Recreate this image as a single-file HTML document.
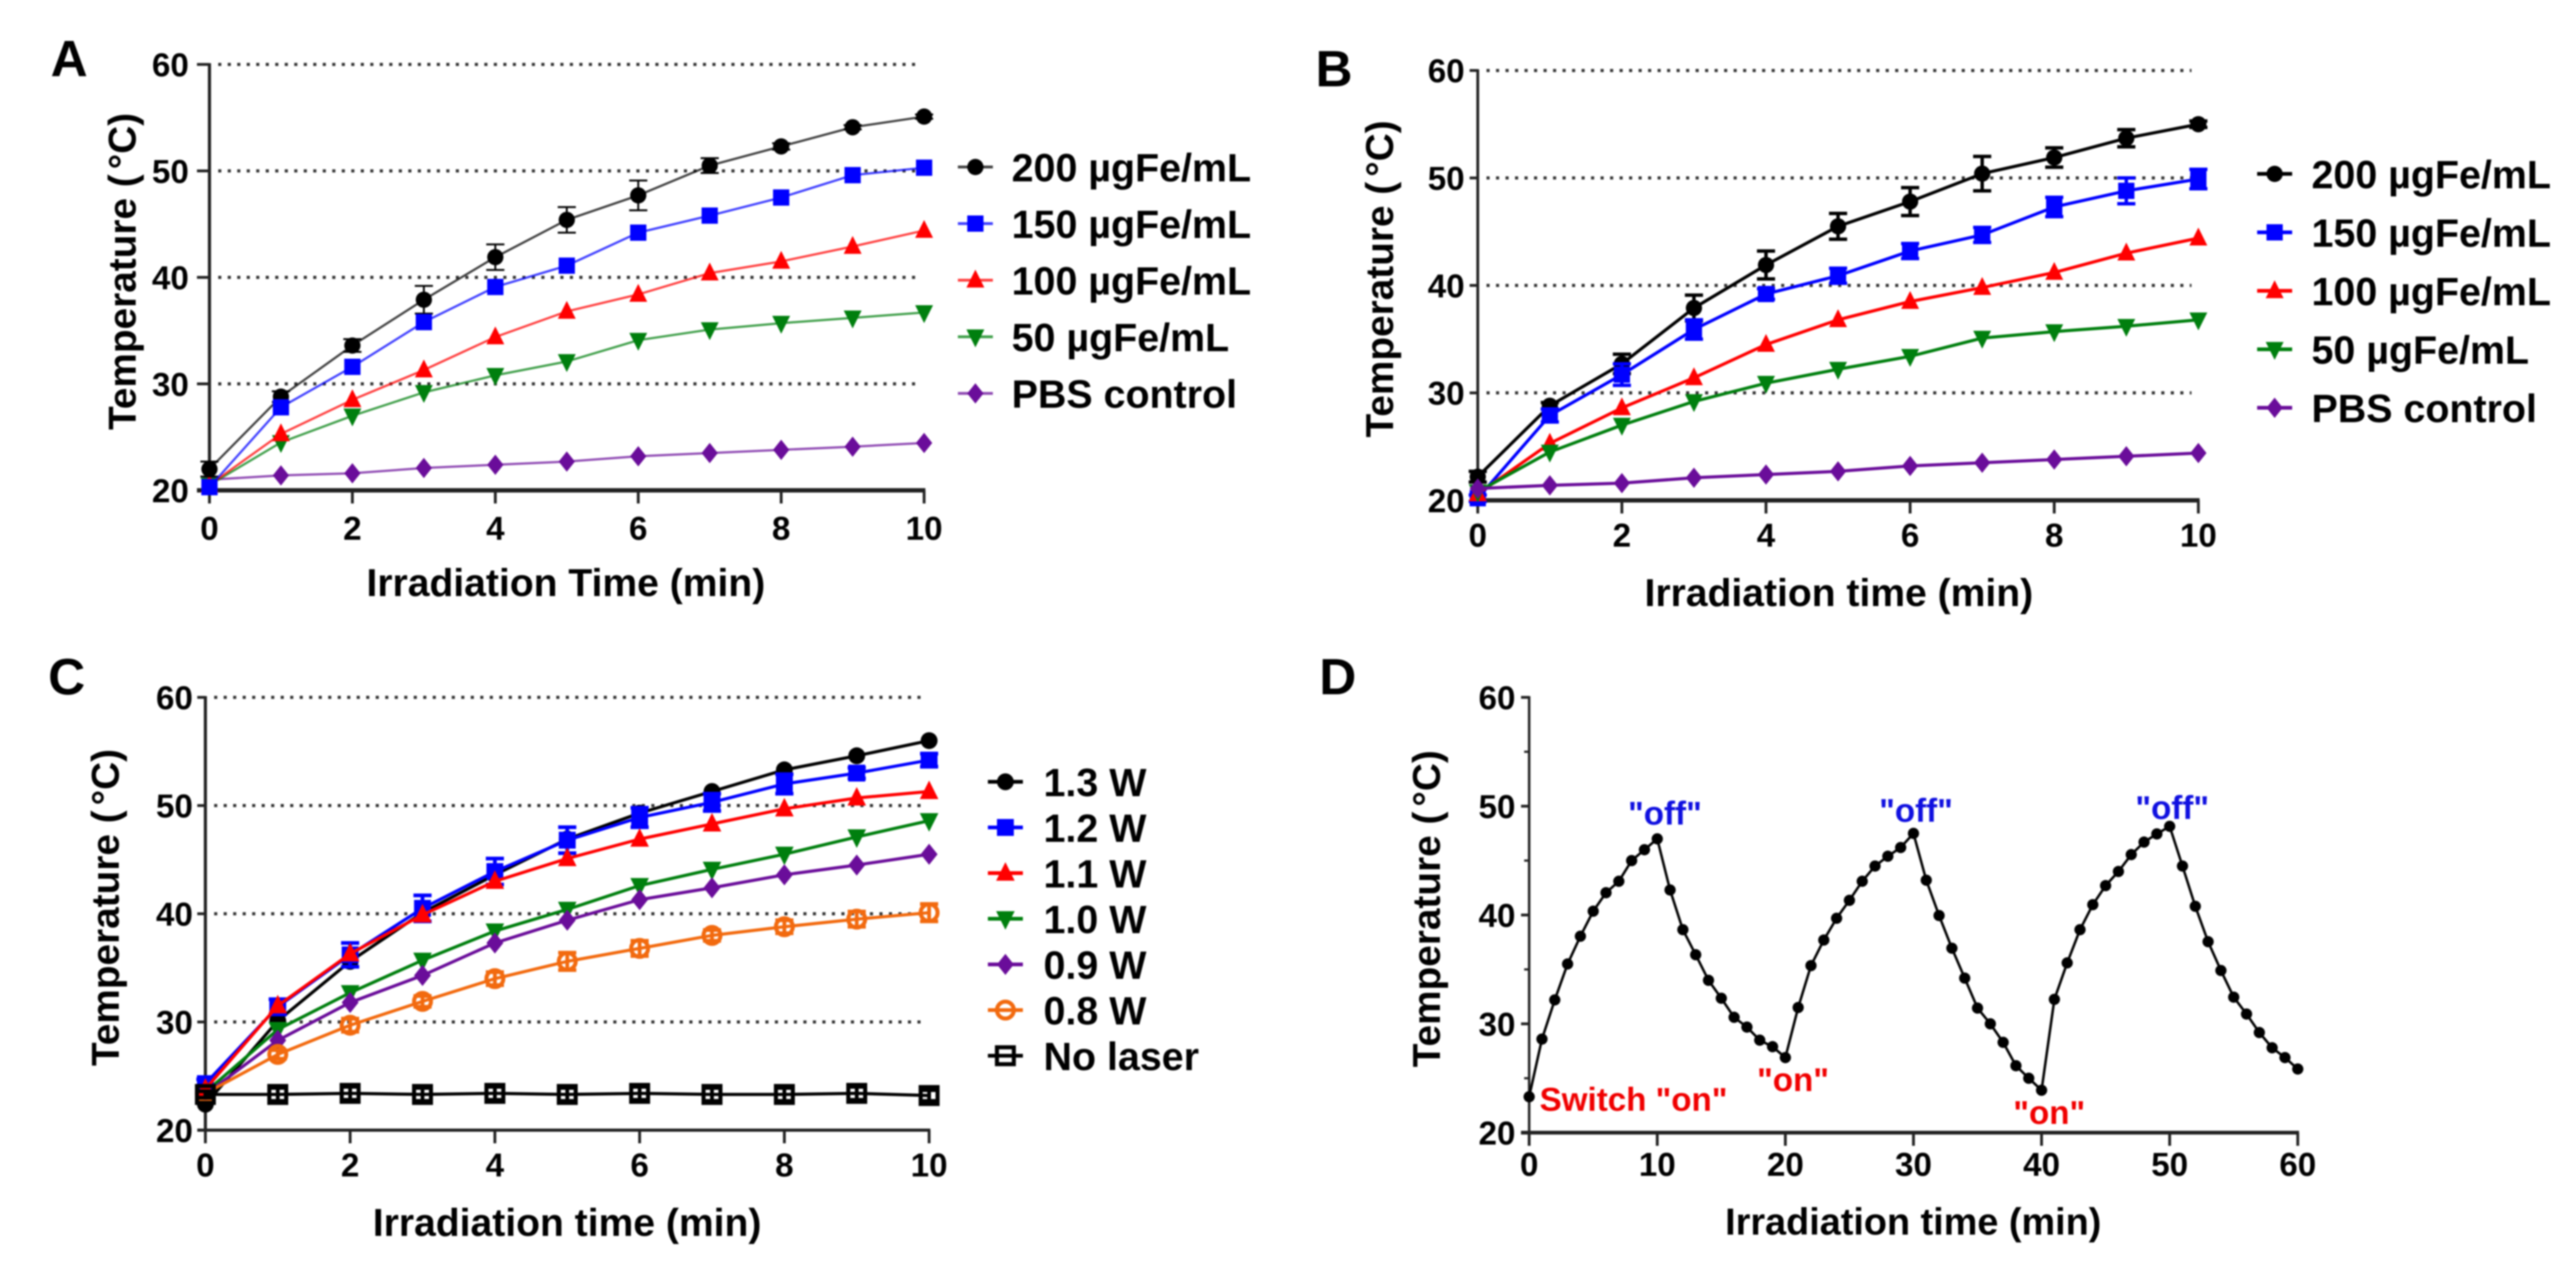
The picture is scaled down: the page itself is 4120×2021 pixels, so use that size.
<!DOCTYPE html>
<html lang="en">
<head>
<meta charset="utf-8">
<title>Photothermal heating curves</title>
<style>
html,body{margin:0;padding:0;background:#fff;width:4120px;height:2021px;overflow:hidden}
#figure{display:block;filter:blur(1.2px)}
text{font-family:"Liberation Sans",Arial,sans-serif;font-weight:bold;fill:#000}
</style>
</head>
<body>
<svg id="figure" xmlns="http://www.w3.org/2000/svg" width="4120" height="2021" viewBox="0 0 4120 2021">
<rect width="4120" height="2021" fill="#fff"/>
</svg>
<script>
// ---------- shared tick labels ----------
const yTickValues = [20, 30, 40, 50, 60];
const yMinorValues = [25, 35, 45, 55];
const xTicksTen = [0, 2, 4, 6, 8, 10];
const xTicksSixty = [0, 10, 20, 30, 40, 50, 60];
const minutes = [0, 1, 2, 3, 4, 5, 6, 7, 8, 9, 10];

// ---------- panel A values ----------
const a200 = [22, 28.8, 33.6, 37.9, 41.9, 45.4, 47.7, 50.5, 52.3, 54.1, 55.1];
const a150 = [20.3, 27.8, 31.6, 35.8, 39.1, 41.1, 44.2, 45.8, 47.5, 49.6, 50.3];
const a100 = [20.5, 25.3, 28.5, 31.3, 34.4, 36.8, 38.4, 40.4, 41.5, 42.9, 44.4];
const a50 = [20.5, 24.5, 27, 29.2, 30.8, 32.1, 34.1, 35.1, 35.7, 36.2, 36.7];
const aPbs = [21, 21.4, 21.6, 22.1, 22.4, 22.7, 23.2, 23.5, 23.8, 24.1, 24.45];
const a200Err = [0.7, 0.5, 0.6, 1.3, 1.2, 1.2, 1.4, 0.7, 0.3, 0.2, 0.2];
const aNone = [0, 0, 0, 0, 0, 0, 0, 0, 0, 0, 0];

// ---------- panel B values ----------
const b200 = [22.2, 28.8, 32.7, 37.9, 41.9, 45.5, 47.8, 50.4, 51.9, 53.7, 55];
const b150 = [20.2, 27.9, 31.7, 35.9, 39.2, 40.9, 43.2, 44.7, 47.3, 48.8, 49.9];
const b100 = [20.6, 25.3, 28.6, 31.4, 34.5, 36.8, 38.5, 39.8, 41.2, 43, 44.4];
const b50 = [20.8, 24.5, 27, 29.2, 30.9, 32.2, 33.4, 35.1, 35.7, 36.2, 36.8];
const bPbs = [21.1, 21.4, 21.6, 22.1, 22.4, 22.7, 23.2, 23.5, 23.8, 24.1, 24.4];
const b200Err = [0.5, 0.3, 0.9, 1.2, 1.3, 1.2, 1.3, 1.6, 0.9, 0.8, 0.3];
const b150Err = [0.3, 0.6, 1, 0.9, 0.5, 0.7, 0.7, 0.7, 0.9, 1.2, 0.9];

// ---------- panel C values ----------
const c13 = [22.4, 30.1, 35.6, 40.1, 43.6, 46.9, 49.3, 51.3, 53.3, 54.6, 56];
const c12 = [24.3, 31.4, 36.2, 40.5, 43.9, 46.8, 48.9, 50.3, 52, 53, 54.2];
const c11 = [23.8, 31.5, 36.3, 39.9, 43, 45.1, 46.9, 48.3, 49.7, 50.7, 51.3];
const c10 = [23.5, 29.3, 32.7, 35.7, 38.4, 40.4, 42.6, 44.1, 45.5, 47.1, 48.6];
const c09 = [23.3, 28.3, 31.8, 34.3, 37.3, 39.4, 41.3, 42.4, 43.6, 44.5, 45.5];
const c08 = [23.4, 27, 29.7, 31.9, 34, 35.6, 36.8, 38, 38.8, 39.5, 40.1];
const cNoLaser = [23.3, 23.3, 23.4, 23.3, 23.4, 23.3, 23.4, 23.3, 23.3, 23.4, 23.2];
const c12Err = [0.4, 0.7, 1.1, 1.2, 1.2, 1.2, 0.9, 0.8, 0.9, 0.5, 0.6];
const c08Err = [0.2, 0.4, 0.6, 0.5, 0.6, 0.8, 0.7, 0.5, 0.6, 0.7, 0.8];
const cNoLaserErr = [0.3, 0.6, 0.6, 0.6, 0.6, 0.6, 0.6, 0.6, 0.6, 0.6, 0.5];

// ---------- panel D values ----------
const dTemps = [23.3, 28.6, 32.2, 35.5, 38.05, 40.35, 42.05, 43.1, 45, 46, 47, 42.3, 38.65, 36.35, 34, 32.35, 30.6, 29.7, 28.5, 27.9, 26.9, 31.5, 35.35, 37.7, 39.7, 41.35, 43.1, 44.5, 45.4, 46.2, 47.5, 43.2, 39.95, 36.95, 34.2, 31.45, 30, 28.3, 26.15, 25, 23.9, 32.25, 35.6, 38.65, 40.95, 42.7, 44, 45.55, 46.7, 47.45, 48.15, 44.5, 40.8, 37.55, 34.9, 32.45, 30.9, 29.2, 27.8, 26.9, 25.85];
const dMinutes = dTemps.map(function (v, i) { return i; });
const dNotes = ['Switch "on"', '"off"', '"off"', '"off"', '"on"', '"on"'];
const dNoteTimes = [8.15, 10.6, 30.2, 50.2, 20.6, 40.6];
const dNoteTemps = [23.1, 49.4, 49.65, 49.9, 24.9, 21.9];
const dNoteColors = ['#f00000', '#1010e0', '#1010e0', '#1010e0', '#f00000', '#f00000'];

const NS = 'http://www.w3.org/2000/svg';
const root = document.getElementById('figure');

function make(parent, tag, attrs, name) {
  const el = document.createElementNS(NS, tag);
  for (const k in attrs) el.setAttribute(k, attrs[k]);
  
  
  parent.appendChild(el);
  return el;
}
function label(parent, x, y, str, size, anchor, name, color) {
  const t = make(parent, 'text', {x: x, y: y, 'font-size': size, 'text-anchor': anchor, fill: color || '#000'}, name);
  t.textContent = str;
  t.style.fill = color || '#000';
  return t;
}
function marker(parent, kind, x, y, s, color, name) {
  if (kind === 'circle') return make(parent, 'circle', {cx: x, cy: y, r: s, fill: color}, name);
  if (kind === 'square') return make(parent, 'rect', {x: x - s, y: y - s, width: 2 * s, height: 2 * s, fill: color}, name);
  if (kind === 'up') return make(parent, 'polygon', {points: [x, y - s * 1.3, x + s * 1.1, y + s * 0.9, x - s * 1.1, y + s * 0.9].join(' '), fill: color}, name);
  if (kind === 'down') return make(parent, 'polygon', {points: [x, y + s * 1.3, x + s * 1.1, y - s * 0.9, x - s * 1.1, y - s * 0.9].join(' '), fill: color}, name);
  if (kind === 'diamond') return make(parent, 'polygon', {points: [x, y - s * 1.25, x + s * 1.0, y, x, y + s * 1.25, x - s * 1.0, y].join(' '), fill: color}, name);
  if (kind === 'open-circle') return make(parent, 'circle', {cx: x, cy: y, r: s, fill: 'none', stroke: color, 'stroke-width': 6.5}, name);
  return make(parent, 'rect', {x: x - s, y: y - s, width: 2 * s, height: 2 * s, fill: 'none', stroke: color, 'stroke-width': 6.5}, name);
}

function drawPanel(p) {
  const g = make(root, 'g', {}, 'panel-' + p.id);
  const xScale = function (v) { return p.x0 + (v - p.xMin) / (p.xMax - p.xMin) * (p.x1 - p.x0); };
  const yScale = function (v) { return p.y20 + (v - 20) / 40 * (p.y60 - p.y20); };

  label(g, p.letterX, p.letterY, p.id, 82, 'start', 'panel-letter');

  if (p.grid) {
    yTickValues.slice(1).forEach(function (v) {
      make(g, 'line', {x1: p.x0 + 14, x2: p.gridEnd, y1: yScale(v), y2: yScale(v), stroke: '#333', 'stroke-width': 5, 'stroke-dasharray': '5 10.2'}, 'gridline');
    });
  }

  make(g, 'line', {x1: p.x0, x2: p.x0, y1: p.y60 - 2, y2: p.y20 + 2, stroke: '#222', 'stroke-width': p.axisW}, 'y-axis');
  make(g, 'line', {x1: p.x0 - p.tickLen, x2: p.x1 + 2, y1: p.y20, y2: p.y20, stroke: '#222', 'stroke-width': p.baseW}, 'x-axis');

  yTickValues.forEach(function (v) {
    make(g, 'line', {x1: p.x0 - p.tickLen, x2: p.x0, y1: yScale(v), y2: yScale(v), stroke: '#222', 'stroke-width': 4.5}, 'y-tick');
    label(g, p.x0 - p.labelGap, yScale(v) + 19, String(v), 53, 'end', 'y-tick-label');
  });
  if (p.minor) {
    yMinorValues.forEach(function (v) {
      make(g, 'line', {x1: p.x0 - 8, x2: p.x0, y1: yScale(v), y2: yScale(v), stroke: '#222', 'stroke-width': 3.5}, 'y-minor-tick');
    });
  }
  p.xTicks.forEach(function (v) {
    make(g, 'line', {x1: xScale(v), x2: xScale(v), y1: p.y20, y2: p.y20 + 21, stroke: '#222', 'stroke-width': 4.5}, 'x-tick');
    label(g, xScale(v), p.xLabelY, String(v), 53, 'middle', 'x-tick-label');
  });

  label(g, p.xTitleX, p.xTitleY, p.xTitle, p.xTitleSize, 'middle', 'x-axis-title');
  const yt = make(g, 'text', {'font-size': 62, 'text-anchor': 'middle', transform: 'translate(' + p.yTitleX + ',' + p.yTitleY + ') rotate(-90)'}, 'y-axis-title');
  yt.appendChild(document.createTextNode('Temperature ('));
  const unit = document.createElementNS(NS, 'tspan');
  unit.setAttribute('dx', '8');
  unit.textContent = '°C)';
  yt.appendChild(unit);

  p.drawOrder.forEach(function (idx) {
    const s = p.series[idx];
    const sg = make(g, 'g', {}, 'series-' + s.key);
    s.err.forEach(function (e, i) {
      if (!e) return;
      const x = xScale(s.xs[i]);
      const hi = yScale(s.values[i] + e);
      const lo = yScale(s.values[i] - e);
      make(sg, 'line', {x1: x, x2: x, y1: hi, y2: lo, stroke: s.color, 'stroke-width': p.errW}, 'error-bar');
      make(sg, 'line', {x1: x - 14.5, x2: x + 14.5, y1: hi, y2: hi, stroke: s.color, 'stroke-width': p.errW}, 'error-cap');
      make(sg, 'line', {x1: x - 14.5, x2: x + 14.5, y1: lo, y2: lo, stroke: s.color, 'stroke-width': p.errW}, 'error-cap');
    });
    const pts = s.values.map(function (v, i) { return xScale(s.xs[i]) + ',' + yScale(v); }).join(' ');
    make(sg, 'polyline', {points: pts, fill: 'none', stroke: s.color, 'stroke-width': p.lineW, 'stroke-opacity': p.lineOpacity, 'stroke-linejoin': 'round'}, 'line-' + s.key);
    s.values.forEach(function (v, i) {
      marker(sg, s.shape, xScale(s.xs[i]), yScale(v), s.size || p.markerSize, s.color, 'point-' + s.key);
    });
  });

  if (p.legendX) {
    p.series.forEach(function (s, i) {
      const ly = p.legendY + i * p.legendStep;
      const lg = make(g, 'g', {}, 'legend-entry');
      make(lg, 'line', {x1: p.legendX - 28, x2: p.legendX + 28, y1: ly, y2: ly, stroke: s.color, 'stroke-width': p.lineW + 1, 'stroke-opacity': p.lineOpacity}, 'legend-line');
      marker(lg, s.shape, p.legendX, ly, s.size || p.markerSize, s.color, 'legend-marker');
      label(lg, p.legendTextX, ly + 23, s.label, 63, 'start', 'legend-label');
    });
  }

  if (p.notes) {
    p.notes.forEach(function (str, i) {
      label(g, xScale(dNoteTimes[i]), yScale(dNoteTemps[i]) + 19, str, 53, 'middle', 'annotation', dNoteColors[i]);
    });
  }
}

function seriesOf(key, lab, values, err, color, shape, xs, size) {
  return {key: key, label: lab, values: values, err: err, color: color, shape: shape, xs: xs || minutes, size: size};
}

const BLACK = '#000000', BLUE = '#0000ff', RED = '#ff0000', GREEN = '#007f0e', PURPLE = '#6a0d9a', ORANGE = '#f26a0f';

drawPanel({
  id: 'A', letterX: 81, letterY: 122, x0: 335, x1: 1478, y20: 784, y60: 103, xMin: 0, xMax: 10, gridEnd: 1465, grid: true,
  axisW: 5, baseW: 7, tickLen: 20, labelGap: 33, xTicks: xTicksTen, xLabelY: 863,
  xTitle: 'Irradiation Time (min)', xTitleSize: 62.5, xTitleX: 905, xTitleY: 953, yTitleX: 217, yTitleY: 434,
  lineW: 3.5, lineOpacity: 0.75, errW: 3, markerSize: 13,
  legendX: 1560, legendTextX: 1618, legendY: 267, legendStep: 90.5,
  drawOrder: [4, 3, 2, 0, 1],
  series: [
    seriesOf('200-ugfe', '200 µgFe/mL', a200, a200Err, BLACK, 'circle'),
    seriesOf('150-ugfe', '150 µgFe/mL', a150, aNone, BLUE, 'square'),
    seriesOf('100-ugfe', '100 µgFe/mL', a100, aNone, RED, 'up'),
    seriesOf('50-ugfe', '50 µgFe/mL', a50, aNone, GREEN, 'down'),
    seriesOf('pbs-control', 'PBS control', aPbs, aNone, PURPLE, 'diamond')
  ]
});

drawPanel({
  id: 'B', letterX: 2104, letterY: 138, x0: 2363.5, x1: 3516, y20: 800, y60: 112.7, xMin: 0, xMax: 10, gridEnd: 3505, grid: true,
  axisW: 4.5, baseW: 7, tickLen: 13, labelGap: 21, xTicks: xTicksTen, xLabelY: 874,
  xTitle: 'Irradiation time (min)', xTitleSize: 62.5, xTitleX: 2941, xTitleY: 969, yTitleX: 2228, yTitleY: 446,
  lineW: 5, lineOpacity: 1, errW: 5.5, markerSize: 13,
  legendX: 3638, legendTextX: 3697, legendY: 278, legendStep: 93.5,
  drawOrder: [0, 1, 2, 3, 4],
  series: [
    seriesOf('200-ugfe', '200 µgFe/mL', b200, b200Err, BLACK, 'circle'),
    seriesOf('150-ugfe', '150 µgFe/mL', b150, b150Err, BLUE, 'square'),
    seriesOf('100-ugfe', '100 µgFe/mL', b100, aNone, RED, 'up'),
    seriesOf('50-ugfe', '50 µgFe/mL', b50, aNone, GREEN, 'down'),
    seriesOf('pbs-control', 'PBS control', bPbs, aNone, PURPLE, 'diamond')
  ]
});

drawPanel({
  id: 'C', letterX: 77, letterY: 1110, x0: 328.5, x1: 1486, y20: 1807, y60: 1115, xMin: 0, xMax: 10, gridEnd: 1475, grid: true,
  axisW: 5, baseW: 5, tickLen: 13, labelGap: 20, xTicks: xTicksTen, xLabelY: 1881,
  xTitle: 'Irradiation time (min)', xTitleSize: 62.5, xTitleX: 907, xTitleY: 1976, yTitleX: 190, yTitleY: 1451,
  lineW: 5, lineOpacity: 1, errW: 6, markerSize: 13.5,
  legendX: 1608, legendTextX: 1669, legendY: 1250, legendStep: 73,
  drawOrder: [0, 3, 4, 5, 1, 2, 6],
  series: [
    seriesOf('1-3-w', '1.3 W', c13, aNone, BLACK, 'circle'),
    seriesOf('1-2-w', '1.2 W', c12, c12Err, BLUE, 'square'),
    seriesOf('1-1-w', '1.1 W', c11, aNone, RED, 'up'),
    seriesOf('1-0-w', '1.0 W', c10, aNone, GREEN, 'down'),
    seriesOf('0-9-w', '0.9 W', c09, aNone, PURPLE, 'diamond'),
    seriesOf('0-8-w', '0.8 W', c08, c08Err, ORANGE, 'open-circle', null, 13.5),
    seriesOf('no-laser', 'No laser', cNoLaser, cNoLaserErr, BLACK, 'open-square', null, 13.5)
  ]
});

drawPanel({
  id: 'D', letterX: 2110, letterY: 1110, x0: 2445.7, x1: 3675, y20: 1811, y60: 1115, xMin: 0, xMax: 60, grid: false, minor: true,
  axisW: 4, baseW: 6, tickLen: 13, labelGap: 22, xTicks: xTicksSixty, xLabelY: 1880,
  xTitle: 'Irradiation time (min)', xTitleSize: 60.5, xTitleX: 3060, xTitleY: 1974, yTitleX: 2303, yTitleY: 1453,
  lineW: 4, lineOpacity: 1, errW: 3, markerSize: 9,
  drawOrder: [0],
  series: [seriesOf('cycling-temperature', 'Cycling', dTemps, dTemps.map(function () { return 0; }), BLACK, 'circle', dMinutes)],
  notes: dNotes
});
</script>
</body>
</html>
